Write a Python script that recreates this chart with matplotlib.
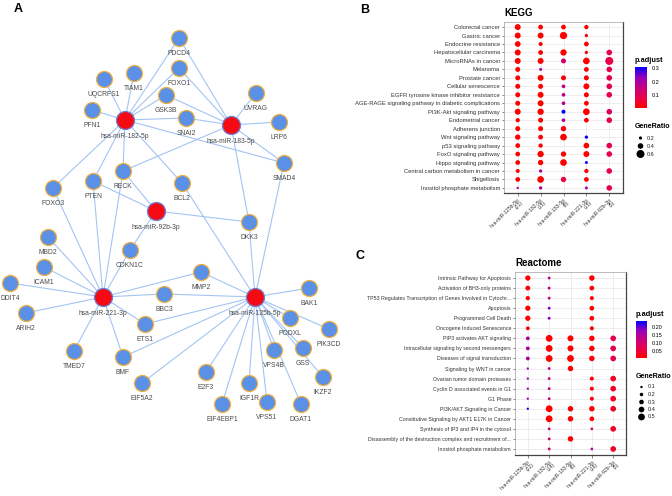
import numpy as np
import matplotlib.pyplot as plt
from matplotlib.colors import LinearSegmentedColormap, Normalize
from matplotlib.cm import ScalarMappable

plt.rcParams['font.family'] = ['Liberation Sans', 'DejaVu Sans']

W, H = 672, 496
nan = np.nan

# ---------------- Panel A: miRNA - target network (layout in pixels)
mirnas = ['hsa-miR-182-5p', 'hsa-miR-183-5p', 'hsa-miR-92b-3p',
          'hsa-miR-221-3p', 'hsa-miR-125b-5p']
node_names = ['PDCD4', 'FOXO1', 'TIAM1', 'UQCRFS1', 'GSK3B', 'UVRAG', 'PFN1',
              'hsa-miR-182-5p', 'SNAI2', 'hsa-miR-183-5p', 'LRP6', 'SMAD4',
              'RECK', 'BCL2', 'PTEN', 'FOXO3', 'hsa-miR-92b-3p', 'DKK3', 'MBD2',
              'CDKN1C', 'ICAM1', 'DDIT4', 'MMP2', 'hsa-miR-221-3p', 'BBC3',
              'hsa-miR-125b-5p', 'BAK1', 'ARIH2', 'ETS1', 'PODXL', 'PIK3CD',
              'TMED7', 'BMF', 'VPS4B', 'GSS', 'IKZF2', 'E2F3', 'EIF5A2',
              'IGF1R', 'EIF4EBP1', 'VPS51', 'DGAT1']
node_x = [179, 179, 134, 104, 166, 256, 92, 125, 186, 231, 279, 284, 123, 182,
          93, 53, 156, 249, 48, 130, 44, 10, 201, 103, 164, 255, 309, 26, 145,
          290, 329, 74, 123, 274, 303, 323, 206, 142, 249, 222, 267, 301]
node_y = [38, 68, 73, 79, 95, 93, 110, 120, 118, 125, 122, 163, 171, 183, 181,
          188, 211, 222, 237, 250, 267, 283, 272, 297, 294, 297, 288, 313, 324,
          318, 329, 351, 357, 350, 348, 377, 372, 383, 383, 404, 402, 404]
targets = {
    'hsa-miR-182-5p': ['PDCD4', 'FOXO1', 'TIAM1', 'UQCRFS1', 'GSK3B', 'PFN1',
                       'SNAI2', 'SMAD4', 'RECK', 'PTEN', 'FOXO3', 'BCL2'],
    'hsa-miR-183-5p': ['PDCD4', 'FOXO1', 'GSK3B', 'SNAI2', 'UVRAG', 'LRP6',
                       'SMAD4', 'RECK', 'DKK3'],
    'hsa-miR-92b-3p': ['RECK', 'PTEN', 'DKK3', 'CDKN1C'],
    'hsa-miR-221-3p': ['FOXO3', 'PTEN', 'RECK', 'MBD2', 'CDKN1C', 'ICAM1',
                       'DDIT4', 'ARIH2', 'MMP2', 'BBC3', 'ETS1', 'TMED7', 'BMF'],
    'hsa-miR-125b-5p': ['BCL2', 'DKK3', 'SMAD4', 'MMP2', 'BBC3', 'ETS1', 'BMF',
                        'EIF5A2', 'BAK1', 'PODXL', 'PIK3CD', 'VPS4B', 'GSS',
                        'IKZF2', 'E2F3', 'IGF1R', 'EIF4EBP1', 'VPS51', 'DGAT1'],
}

# ---------------- Panel B: KEGG enrichment
kegg_clusters = ['hsa-miR-125b-5p\n(21)', 'hsa-miR-182-5p\n(15)', 'hsa-miR-183-5p\n(8)',
                 'hsa-miR-221-3p\n(15)', 'hsa-miR-92b-3p\n(5)']
kegg_terms = ['Colorectal cancer', 'Gastric cancer', 'Endocrine resistance',
              'Hepatocellular carcinoma', 'MicroRNAs in cancer', 'Melanoma',
              'Prostate cancer', 'Cellular senescence',
              'EGFR tyrosine kinase inhibitor resistance',
              'AGE-RAGE signaling pathway in diabetic complications',
              'PI3K-Akt signaling pathway', 'Endometrial cancer', 'Adherens junction',
              'Wnt signaling pathway', 'p53 signaling pathway', 'FoxO signaling pathway',
              'Hippo signaling pathway', 'Central carbon metabolism in cancer',
              'Shigellosis', 'Inositol phosphate metabolism']
kegg_ratio = [
    [0.43, 0.33, 0.33, 0.29, nan],
    [0.43, 0.43, 0.54, 0.21, nan],
    [0.41, 0.27, nan, 0.33, nan],
    [0.43, 0.33, 0.46, 0.21, 0.40],
    [0.43, 0.43, 0.35, 0.49, 0.60],
    [0.35, 0.18, nan, 0.33, 0.40],
    [0.35, 0.43, 0.35, 0.35, 0.40],
    [0.35, 0.35, 0.24, 0.43, 0.40],
    [0.35, 0.43, 0.24, 0.35, 0.40],
    [0.35, 0.43, 0.24, 0.33, nan],
    [0.43, 0.46, 0.27, 0.49, 0.40],
    [0.29, 0.35, 0.24, 0.33, 0.40],
    [0.35, 0.35, 0.38, nan, nan],
    [0.38, 0.33, 0.49, 0.21, nan],
    [0.33, 0.29, nan, 0.41, 0.40],
    [0.33, 0.46, 0.38, 0.43, 0.40],
    [0.33, 0.38, 0.49, 0.18, nan],
    [0.27, 0.21, nan, 0.29, 0.40],
    [0.33, 0.49, 0.38, 0.33, nan],
    [0.13, 0.21, nan, 0.18, 0.40],
]
kegg_padj = [
    [0.002, 0.002, 0.004, 0.003, nan],
    [0.002, 0.002, 0.003, 0.010, nan],
    [0.002, 0.008, nan, 0.004, nan],
    [0.002, 0.004, 0.004, 0.010, 0.080],
    [0.002, 0.002, 0.140, 0.002, 0.075],
    [0.004, 0.200, nan, 0.005, 0.080],
    [0.003, 0.002, 0.010, 0.004, 0.080],
    [0.003, 0.004, 0.180, 0.002, 0.080],
    [0.003, 0.002, 0.180, 0.004, 0.080],
    [0.003, 0.002, 0.180, 0.005, nan],
    [0.002, 0.002, 0.310, 0.002, 0.110],
    [0.005, 0.004, 0.180, 0.006, 0.080],
    [0.004, 0.006, 0.010, nan, nan],
    [0.003, 0.008, 0.003, 0.310, nan],
    [0.004, 0.008, nan, 0.003, 0.080],
    [0.004, 0.002, 0.010, 0.002, 0.080],
    [0.004, 0.004, 0.003, 0.310, nan],
    [0.008, 0.200, nan, 0.008, 0.080],
    [0.004, 0.002, 0.070, 0.006, nan],
    [0.200, 0.190, nan, 0.200, 0.080],
]
kegg_cbar_ticks = [0.1, 0.2, 0.3]
kegg_size_breaks = [0.2, 0.4, 0.6]

# ---------------- Panel C: Reactome enrichment
react_clusters = ['hsa-miR-125b-5p\n(22)', 'hsa-miR-182-5p\n(14)', 'hsa-miR-183-5p\n(8)',
                  'hsa-miR-221-3p\n(16)', 'hsa-miR-92b-3p\n(5)']
react_terms = ['Intrinsic Pathway for Apoptosis', 'Activation of BH3-only proteins',
               'TP53 Regulates Transcription of Genes Involved in Cytochr...',
               'Apoptosis', 'Programmed Cell Death', 'Oncogene Induced Senescence',
               'PIP3 activates AKT signaling', 'Intracellular signaling by second messengers',
               'Diseases of signal transduction', 'Signaling by WNT in cancer',
               'Ovarian tumor domain proteases', 'Cyclin D associated events in G1',
               'G1 Phase', 'PI3K/AKT Signaling in Cancer',
               'Constitutive Signaling by AKT1 E17K in Cancer',
               'Synthesis of IP3 and IP4 in the cytosol',
               'Disassembly of the destruction complex and recruitment of...',
               'Inositol phosphate metabolism']
react_ratio = [
    [0.36, 0.14, nan, 0.38, nan],
    [0.32, 0.14, nan, 0.31, nan],
    [0.27, 0.14, nan, 0.25, nan],
    [0.36, 0.14, nan, 0.31, nan],
    [0.36, 0.14, nan, 0.31, nan],
    [0.23, nan, nan, 0.25, nan],
    [0.23, 0.50, 0.43, 0.38, 0.40],
    [0.23, 0.50, 0.43, 0.38, 0.40],
    [0.23, 0.50, 0.50, 0.38, 0.40],
    [0.09, 0.14, 0.38, nan, nan],
    [0.09, 0.14, nan, 0.25, 0.40],
    [0.09, 0.14, nan, 0.25, 0.40],
    [0.09, 0.14, nan, 0.25, 0.40],
    [0.09, 0.50, 0.38, 0.38, 0.40],
    [nan, 0.50, 0.38, 0.31, nan],
    [nan, 0.14, nan, 0.13, 0.40],
    [nan, 0.14, 0.38, nan, nan],
    [nan, 0.14, nan, 0.13, 0.40],
]
react_padj = [
    [0.005, 0.130, nan, 0.005, nan],
    [0.005, 0.130, nan, 0.005, nan],
    [0.006, 0.120, nan, 0.006, nan],
    [0.005, 0.190, nan, 0.005, nan],
    [0.005, 0.190, nan, 0.005, nan],
    [0.008, nan, nan, 0.008, nan],
    [0.150, 0.003, 0.003, 0.006, 0.070],
    [0.150, 0.003, 0.003, 0.006, 0.070],
    [0.150, 0.003, 0.003, 0.006, 0.070],
    [0.170, 0.120, 0.004, nan, nan],
    [0.170, 0.120, nan, 0.010, 0.035],
    [0.170, 0.120, nan, 0.010, 0.035],
    [0.170, 0.120, nan, 0.010, 0.035],
    [0.240, 0.003, 0.006, 0.006, 0.035],
    [nan, 0.003, 0.006, 0.008, nan],
    [nan, 0.100, nan, 0.090, 0.035],
    [nan, 0.100, 0.006, nan, nan],
    [nan, 0.100, nan, 0.140, 0.035],
]
react_cbar_ticks = [0.05, 0.10, 0.15, 0.20]
react_size_breaks = [0.1, 0.2, 0.3, 0.4, 0.5]

# red -> blue gradient, roughly as ggplot interpolates it
cmap = LinearSegmentedColormap.from_list(
    'padj', ['#FF0000', '#E8004A', '#C6007F', '#9600BA', '#0000FF'])


def px_size(d_px):
    return (np.asarray(d_px) * 72 / 100) ** 2


fig = plt.figure(figsize=(W / 100, H / 100), dpi=100)

# ---------- panel A
axA = fig.add_axes([0, 0, 340 / W, 1])
axA.set_xlim(0, 340)
axA.set_ylim(H, 0)
axA.axis('off')
pos = {n: (x, y) for n, x, y in zip(node_names, node_x, node_y)}
for mir, genes in targets.items():
    for g in genes:
        axA.plot([pos[mir][0], pos[g][0]], [pos[mir][1], pos[g][1]],
                 color='#A3C4F3', lw=0.8, zorder=1)
is_mir = np.array([n in mirnas for n in node_names])
nx = np.array(node_x)
ny = np.array(node_y)
axA.scatter(nx[~is_mir], ny[~is_mir], s=px_size(16), c='#5A90E6',
            edgecolors='#F0B040', linewidths=0.9, zorder=3)
axA.scatter(nx[is_mir], ny[is_mir], s=px_size(18), c='#F50A14',
            edgecolors='#6C7FD6', linewidths=0.9, zorder=3)
for n, x, y, m in zip(node_names, node_x, node_y, is_mir):
    axA.text(x, y + (16.5 if m else 15.5), n, ha='center', va='center',
             fontsize=4.9, color='#4a4a4a', zorder=4)

fig.text(18 / W, 1 - 9 / H, 'A', fontsize=9, fontweight='bold', ha='center', va='center')
fig.text(365 / W, 1 - 10 / H, 'B', fontsize=9, fontweight='bold', ha='center', va='center')
fig.text(360 / W, 1 - 256 / H, 'C', fontsize=9, fontweight='bold', ha='center', va='center')

# overlay axes in pixel coordinates for the size legends
axL = fig.add_axes([0, 0, 1, 1], zorder=5)
axL.set_xlim(0, W)
axL.set_ylim(H, 0)
axL.axis('off')


def dotplot(box, title, terms, clusters, ratio, padj, diam, ylab_fs):
    l, t, r, b = box
    ax = fig.add_axes([l / W, 1 - b / H, (r - l) / W, (b - t) / H])
    ratio = np.array(ratio, float)
    padj = np.array(padj, float)
    yy, xx = np.meshgrid(np.arange(len(terms)), np.arange(len(clusters)), indexing='ij')
    m = ~np.isnan(ratio)
    norm = Normalize(np.nanmin(padj), np.nanmax(padj))
    ax.scatter(xx[m], yy[m], s=px_size(diam(ratio[m])), c=padj[m], cmap=cmap,
               norm=norm, linewidths=0, zorder=3)
    ax.set_xlim(-0.6, len(clusters) - 0.4)
    ax.set_ylim(len(terms) - 0.4, -0.6)
    ax.set_xticks(range(len(clusters)))
    ax.set_xticklabels(clusters, rotation=45, ha='right', va='top',
                       rotation_mode='anchor', fontsize=3.7, color='#333333',
                       multialignment='right', linespacing=0.9)
    ax.set_yticks(range(len(terms)))
    ax.set_yticklabels(terms, fontsize=ylab_fs, color='#333333')
    ax.tick_params(length=1.8, width=0.5, color='#555555', pad=1)
    ax.grid(True, color='#E6E6E6', lw=0.5, zorder=0)
    ax.set_axisbelow(True)
    for s in ['top', 'left']:
        ax.spines[s].set_color('#A0A0A0')
        ax.spines[s].set_linewidth(0.5)
    for s in ['right', 'bottom']:
        ax.spines[s].set_color('#444444')
        ax.spines[s].set_linewidth(0.9)
    ax.set_title(title, loc='left', fontsize=7, fontweight='bold', pad=4)
    return ax, norm


def legends(norm, cbar_ticks, fmt, size_fmt, cb_box, title_y, breaks, diam,
            size_y0, size_step):
    l, t, r, b = cb_box
    fig.text(l / W, 1 - (t - 6) / H, 'p.adjust', fontsize=5.3, fontweight='bold',
             va='center', ha='left')
    cax = fig.add_axes([l / W, 1 - b / H, (r - l) / W, (b - t) / H])
    cb = fig.colorbar(ScalarMappable(norm=norm, cmap=cmap), cax=cax, ticks=cbar_ticks)
    cb.outline.set_visible(False)
    cb.ax.set_yticklabels([fmt.format(v) for v in cbar_ticks])
    cb.ax.tick_params(length=2, width=0.5, color='white', labelsize=4, pad=1.5)
    fig.text(l / W, 1 - title_y / H, 'GeneRatio', fontsize=5.1, fontweight='bold',
             va='center', ha='left')
    ys = size_y0 + size_step * np.arange(len(breaks))
    axL.scatter(np.full(len(breaks), l + 5.5), ys, s=px_size(diam(np.array(breaks))),
                c='black', linewidths=0)
    for v, y in zip(breaks, ys):
        axL.text(l + 12, y, size_fmt.format(v), fontsize=4, va='center', ha='left',
                 color='#222222')


def kegg_diam(r):
    return 0.8 + 12 * r


def react_diam(r):
    return 1.3 + 11 * r


axB, normB = dotplot((504, 22, 623, 193), 'KEGG', kegg_terms, kegg_clusters,
                     kegg_ratio, kegg_padj, kegg_diam, 4.2)
legends(normB, kegg_cbar_ticks, '{:.1f}', '{:.1f}', (635, 67, 647, 108), 127,
        kegg_size_breaks, kegg_diam, 138, 8)

axC, normC = dotplot((515, 272, 626, 455), 'Reactome', react_terms, react_clusters,
                     react_ratio, react_padj, react_diam, 3.8)
legends(normC, react_cbar_ticks, '{:.2f}', '{:.1f}', (636, 321, 647, 358), 376,
        react_size_breaks, react_diam, 387, 7.5)

fig.savefig('out.png', dpi=100)
